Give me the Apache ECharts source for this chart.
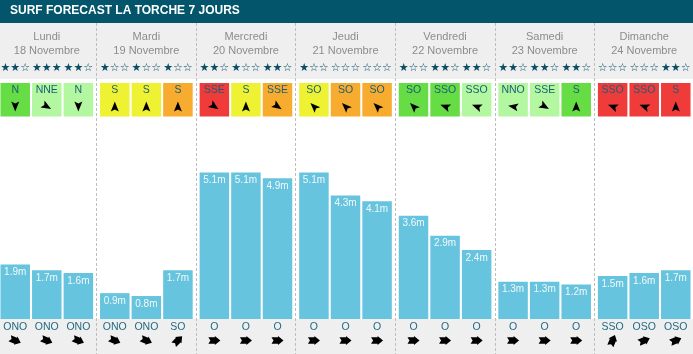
<!DOCTYPE html>
<html><head><meta charset="utf-8">
<script src="https://cdn.jsdelivr.net/npm/echarts/dist/echarts.min.js"></script>
<style>html,body{margin:0;padding:0;background:#fff}#c{width:693px;height:354px}</style>
</head><body><div id="c"></div>
<script>
// ---------- data ----------
const titleText = 'SURF FORECAST LA TORCHE 7 JOURS';
const days = ['Lundi','Mardi','Mercredi','Jeudi','Vendredi','Samedi','Dimanche'];
const dates = ['18 Novembre','19 Novembre','20 Novembre','21 Novembre','22 Novembre','23 Novembre','24 Novembre'];
// three forecast slots per day
const stars = [[2,3,2],[1,1,1],[2,1,2],[1,0,0],[1,2,2],[2,2,2],[0,0,2]];
const windDir = [['N','NNE','N'],['S','S','S'],['SSE','S','SSE'],['SO','SO','SO'],['SO','SSO','SSO'],['NNO','SSE','S'],['SSO','SSO','S']];
const windLevel = [['g','lg','lg'],['y','y','o'],['r','y','o'],['y','o','o'],['g','g','lg'],['lg','lg','g'],['r','r','r']];
const windArrowDeg = [[180,120,180],[0,0,0],[125,0,125],[315,315,315],[315,290,290],[280,120,0],[290,290,0]];
const waveHeight = [[1.9,1.7,1.6],[0.9,0.8,1.7],[5.1,5.1,4.9],[5.1,4.3,4.1],[3.6,2.9,2.4],[1.3,1.3,1.2],[1.5,1.6,1.7]];
const swellDir = [['ONO','ONO','ONO'],['ONO','ONO','SO'],['O','O','O'],['O','O','O'],['O','O','O'],['O','O','O'],['SSO','OSO','OSO']];

// ---------- style ----------
const BEARING = {N:0,NNE:22.5,NE:45,ENE:67.5,E:90,ESE:112.5,SE:135,SSE:157.5,S:180,SSO:202.5,SO:225,OSO:247.5,O:270,ONO:292.5,NO:315,NNO:337.5};
const WIND_COLORS = {g:'#66dc45', lg:'#b3f7a0', y:'#eef233', o:'#f7ab2f', r:'#f03b3b'};
const FONT = '"Liberation Sans", Arial, Helvetica, sans-serif';
const BAR_W = 29.5, BAR_GAP = '7%';
const GL = -3, GW = 697;
const NAV_ARROW = 'path://M5 0 L10 12 L5 9.5 L0 12 Z';
const SWELL_ARROW = 'path://M5 0 L10 5.5 L8.6 5.5 L8.6 12 L5 10 L1.4 12 L1.4 5.5 L0 5.5 Z';

const gridBoxes = [
  [23, 331],    // 0 separators
  [23, 56],     // 1 header
  [83, 33.5],   // 2 wind boxes
  [100.5, 12],  // 3 wind arrows
  [118, 201],   // 4 waves
  [319, 16],    // 5 swell text
  [334.5, 12]   // 6 swell arrows
];
const grids = gridBoxes.map(b => ({left:GL, width:GW, top:b[0], height:b[1], outerBoundsMode:'none', containLabel:false}));
const xAxes = grids.map((g,i) => ({type:'category', gridIndex:i, data:days, show:false}));
xAxes[0] = {type:'category', gridIndex:0, data:days, axisLine:{show:false}, axisTick:{show:false}, axisLabel:{show:false},
  splitLine:{show:true, lineStyle:{color:'#bdbdbd', width:1, type:[3,2]}}};
xAxes[1] = {type:'category', gridIndex:1, data:days, position:'top', axisLine:{show:false}, axisTick:{show:false}, splitLine:{show:false},
  axisLabel:{inside:true, margin:7.5, interval:0, color:'#8c8c8c', fontSize:11, lineHeight:13.5, fontFamily:FONT,
    formatter:(v,i)=> v + '\n' + dates[i]}};
const yAxes = grids.map((g,i) => ({type:'value', gridIndex:i, min:0, max: i===4 ? 7 : 1, show:false}));

const series = [];
for (let k = 0; k < 3; k++) {
  // stars
  series.push({type:'bar', xAxisIndex:1, yAxisIndex:1, barWidth:BAR_W, barGap:BAR_GAP, silent:true,
    data: stars.map(()=>1), itemStyle:{color:'transparent'},
    label:{show:true, position:'insideBottom', distance:5.5, color:'#0b4f66', fontSize:11, fontFamily:'"DejaVu Sans"',
      formatter:p => '★'.repeat(stars[p.dataIndex][k]) + '☆'.repeat(3 - stars[p.dataIndex][k])}});
  // wind boxes
  series.push({type:'bar', xAxisIndex:2, yAxisIndex:2, barWidth:BAR_W, barGap:BAR_GAP, silent:true,
    data: windLevel.map(d => ({value:1, itemStyle:{color:WIND_COLORS[d[k]]}})),
    label:{show:true, position:'insideTop', distance:2, color:'#1b5f77', fontSize:10.5, fontFamily:FONT,
      formatter:p => windDir[p.dataIndex][k]}});
  // wind arrows
  series.push({type:'pictorialBar', xAxisIndex:3, yAxisIndex:3, barWidth:BAR_W, barGap:BAR_GAP, silent:true, z:5,
    symbol:NAV_ARROW, symbolSize:[8,10], symbolPosition:'center', itemStyle:{color:'#000'},
    data: windArrowDeg.map(d => ({value:1, symbolRotate:-d[k]}))});
  // waves
  series.push({type:'bar', xAxisIndex:4, yAxisIndex:4, barWidth:BAR_W, barGap:BAR_GAP, silent:true,
    data: waveHeight.map(d => d[k]), itemStyle:{color:'#66c4de'},
    label:{show:true, position:'insideTop', distance:3, color:'#f4f8fa', fontSize:10, fontFamily:FONT,
      formatter:p => p.value.toFixed(1) + 'm'}});
  // swell text
  series.push({type:'bar', xAxisIndex:5, yAxisIndex:5, barWidth:BAR_W, barGap:BAR_GAP, silent:true,
    data: swellDir.map(()=>1), itemStyle:{color:'transparent'},
    label:{show:true, position:'inside', color:'#1f6a81', fontSize:10.5, fontFamily:FONT,
      formatter:p => swellDir[p.dataIndex][k]}});
  // swell arrows
  series.push({type:'pictorialBar', xAxisIndex:6, yAxisIndex:6, barWidth:BAR_W, barGap:BAR_GAP, silent:true, z:5,
    symbol:SWELL_ARROW, symbolSize:[9,12], symbolPosition:'center', itemStyle:{color:'#000'},
    data: swellDir.map(d => ({value:1, symbolRotate:-((BEARING[d[k]] + 180) % 360)}))});
}

const chart = echarts.init(document.getElementById('c'), null, {renderer:'canvas'});
chart.setOption({
  animation:false,
  backgroundColor:'#fff',
  title:{text:titleText, left:10, top:5, padding:0,
    textStyle:{color:'#fff', fontSize:12, fontWeight:'bold', fontFamily:FONT}},
  graphic:[
    {type:'rect', z:-10, shape:{x:0, y:0, width:693, height:23}, style:{fill:'#02556a'}},
    {type:'rect', z:-10, shape:{x:0, y:23, width:693, height:56}, style:{fill:'#efefef'}},
    {type:'rect', z:-10, shape:{x:0, y:319, width:693, height:35}, style:{fill:'#efefef'}}
  ],
  grid:grids, xAxis:xAxes, yAxis:yAxes, series:series
});
</script></body></html>
